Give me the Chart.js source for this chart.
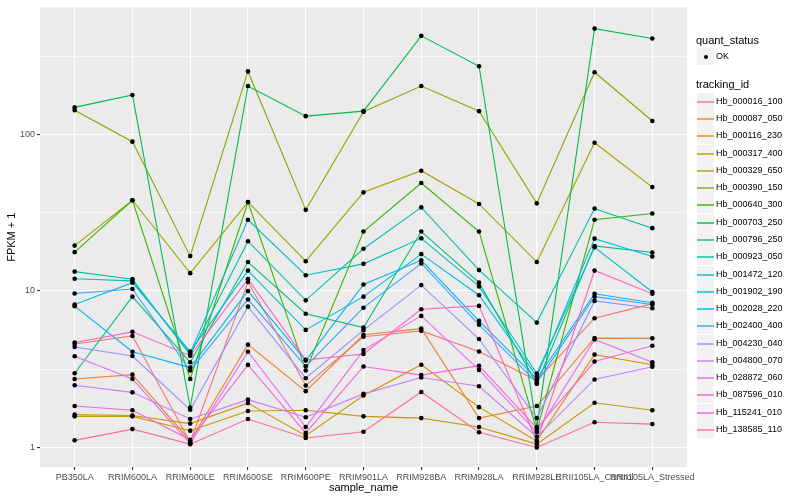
<!DOCTYPE html>
<html>
<head>
<meta charset="utf-8">
<script src="https://cdn.jsdelivr.net/npm/chart.js@4"></script>
<style>
  body { margin: 0; background: #fff; font-family: "Liberation Sans", Arial, sans-serif; }
  #wrap { position: relative; width: 800px; height: 500px; }
  #legend { position: absolute; left: 0; top: 0; }
  .ttl { position: absolute; font-size: 11px; color: #000; line-height: 13px; }
  .key { position: absolute; width: 17px; height: 17px; background: #f2f2f2; }
  .lab { position: absolute; font-size: 9px; color: #000; line-height: 11px; }
</style>
</head>
<body>
<div id="wrap">
  <canvas id="myChart" width="800" height="500"></canvas>
  <div id="legend"></div>
</div>
<script>
const categories = ["PB350LA", "RRIM600LA", "RRIM600LE", "RRIM600SE", "RRIM600PE", "RRIM901LA",
  "RRIM928BA", "RRIM928LA", "RRIM928LE", "RRII105LA_Control", "RRII105LA_Stressed"];

// FPKM + 1 per sample
const hb_000016_100 = [4.58, 5.16, 1.08, 11.4, 2.49, 5.1, 5.56, 4.1, 2.68, 6.7, 8.3];
const hb_000087_050 = [2.74, 2.92, 1.1, 4.54, 2.29, 5.25, 5.75, 1.54, 1.84, 5.0, 4.98];
const hb_000116_230 = [1.62, 1.6, 1.42, 1.92, 1.19, 2.15, 3.38, 1.81, 1.1, 3.92, 3.38];
const hb_000317_400 = [1.58, 1.58, 1.28, 1.71, 1.73, 1.58, 1.54, 1.35, 1.05, 1.93, 1.73];
const hb_000329_650 = [19.5, 38, 13.0, 37, 15.5, 42.7, 58.7, 36, 15.3, 88.6, 46.1];
const hb_000390_150 = [143, 90, 16.7, 253, 33, 140, 204, 141, 36.3, 250, 122];
const hb_000640_300 = [17.7, 38, 2.74, 37, 3.1, 24, 49, 24, 1.28, 28.5, 31.3];
const hb_000703_250 = [149, 179, 1.8, 204, 131, 141, 427, 273, 1.35, 475, 411];
const hb_000796_250 = [2.98, 9.2, 3.5, 15.3, 7.15, 5.83, 24.0, 11.3, 2.55, 19.4, 17.6];
const hb_000923_050 = [13.3, 11.9, 3.9, 20.8, 8.71, 18.6, 34.2, 13.6, 6.28, 33.6, 25.2];
const hb_001472_120 = [11.97, 11.6, 4.0, 28.5, 12.6, 14.9, 21.7, 10.7, 2.97, 19.0, 9.85];
const hb_001902_190 = [8.2, 11.3, 4.1, 13.5, 5.64, 9.2, 17.2, 9.39, 2.85, 21.6, 16.6];
const hb_002028_220 = [8.0, 4.09, 3.24, 10.0, 3.59, 11.0, 15.7, 6.44, 2.75, 9.6, 8.4];
const hb_002400_400 = [9.63, 10.3, 3.1, 8.83, 3.3, 7.82, 15.0, 6.08, 2.6, 9.2, 8.2];
const hb_004230_040 = [4.39, 3.84, 1.74, 7.94, 2.77, 5.62, 10.9, 4.93, 1.54, 8.64, 7.76];
const hb_004800_070 = [2.5, 2.25, 1.52, 2.02, 1.56, 2.2, 2.8, 2.46, 1.17, 2.72, 3.28];
const hb_028872_060 = [3.83, 2.74, 1.06, 4.09, 1.35, 4.19, 6.93, 3.13, 1.25, 4.9, 3.5];
const hb_087596_010 = [1.84, 1.73, 1.12, 3.37, 1.24, 3.29, 2.9, 3.33, 1.33, 3.54, 4.47];
const hb_115241_010 = [4.69, 5.48, 3.86, 11.9, 3.63, 3.96, 7.64, 8.03, 1.1, 13.5, 9.6];
const hb_138585_110 = [1.11, 1.31, 1.05, 1.52, 1.15, 1.26, 2.26, 1.25, 1.0, 1.45, 1.41];

const trackingIds = ["Hb_000016_100", "Hb_000087_050", "Hb_000116_230", "Hb_000317_400", "Hb_000329_650",
  "Hb_000390_150", "Hb_000640_300", "Hb_000703_250", "Hb_000796_250", "Hb_000923_050", "Hb_001472_120",
  "Hb_001902_190", "Hb_002028_220", "Hb_002400_400", "Hb_004230_040", "Hb_004800_070", "Hb_028872_060",
  "Hb_087596_010", "Hb_115241_010", "Hb_138585_110"];
const seriesValues = [hb_000016_100, hb_000087_050, hb_000116_230, hb_000317_400, hb_000329_650,
  hb_000390_150, hb_000640_300, hb_000703_250, hb_000796_250, hb_000923_050, hb_001472_120,
  hb_001902_190, hb_002028_220, hb_002400_400, hb_004230_040, hb_004800_070, hb_028872_060,
  hb_087596_010, hb_115241_010, hb_138585_110];

const yTicks = [1, 3.1623, 10, 31.623, 100, 316.23];
const yLabels = [1, 10, 100];

// ggplot hue palette, 20 levels
const colors = ["#F8766D", "#EA8331", "#D89000", "#C09B00", "#A3A500", "#7CAE00", "#39B600", "#00BB4E",
  "#00BF7D", "#00C1A3", "#00BFC4", "#00BAE0", "#00B0F6", "#35A2FF", "#9590FF", "#C77CFF", "#E76BF3",
  "#FA62DB", "#FF62BC", "#FF6C91"];

const isMajor = (v) => yLabels.some((m) => Math.abs(m - v) < 1e-6);

const datasets = seriesValues.map((vals, i) => ({
  label: trackingIds[i],
  data: vals.map((v, j) => ({ x: j, y: v })),
  borderColor: colors[i],
  borderWidth: 1.1,
  pointRadius: 0,
  fill: false,
  order: 100 - i
}));

// all points on top, like geom_point after geom_line
datasets.push({
  type: "scatter",
  label: "OK",
  data: seriesValues.flatMap((vals) => vals.map((v, j) => ({ x: j, y: v }))),
  pointRadius: 2.3,
  pointBackgroundColor: "#000",
  pointBorderWidth: 0,
  order: 0
});

const panelBg = {
  id: "panelBg",
  beforeDraw(chart) {
    const { ctx, chartArea: a } = chart;
    ctx.save();
    ctx.fillStyle = "#ebebeb";
    ctx.fillRect(a.left, a.top, a.right - a.left, a.bottom - a.top);
    ctx.restore();
  }
};

const tickFont = { family: "Liberation Sans", size: 9 };
const titleFont = { family: "Liberation Sans", size: 11 };

new Chart(document.getElementById("myChart"), {
  type: "line",
  data: { datasets },
  plugins: [panelBg],
  options: {
    responsive: false,
    animation: false,
    events: [],
    layout: { padding: { left: 0, top: 5, right: 113, bottom: 0 } },
    plugins: { legend: { display: false }, tooltip: { enabled: false } },
    scales: {
      x: {
        type: "linear",
        min: -0.6,
        max: 10.6,
        afterBuildTicks: (s) => { s.ticks = categories.map((c, i) => ({ value: i })); },
        afterFit: (s) => { s.height = 33; },
        ticks: {
          autoSkip: false, maxRotation: 0, minRotation: 0, padding: 2,
          color: "#4d4d4d", font: tickFont,
          callback: (v) => categories[v]
        },
        grid: { color: "#ffffff", lineWidth: 1.1, tickColor: "#333333", tickLength: 3 },
        border: { display: false },
        title: { display: true, text: "sample_name", color: "#000", font: titleFont, padding: { top: 0, bottom: 5 } }
      },
      y: {
        type: "logarithmic",
        min: 0.75,
        max: 649,
        afterBuildTicks: (s) => { s.ticks = yTicks.map((v) => ({ value: v })); },
        afterFit: (s) => { s.width = 40; },
        ticks: {
          padding: 2, color: "#4d4d4d", font: tickFont,
          callback: (v) => (isMajor(v) ? String(Math.round(v)) : "")
        },
        grid: {
          color: "#ffffff",
          lineWidth: (c) => (isMajor(c.tick.value) ? 1.1 : 0.55),
          tickColor: (c) => (isMajor(c.tick.value) ? "#333333" : "rgba(0,0,0,0)"),
          tickLength: 3
        },
        border: { display: false },
        title: { display: true, text: "FPKM + 1", color: "#000", font: titleFont, padding: { top: 5, bottom: 0 } }
      }
    }
  }
});

// legend in ggplot style
const legend = document.getElementById("legend");
let html = "";
html += `<div class="ttl" style="left:696px;top:34px">quant_status</div>`;
html += `<div class="key" style="left:697px;top:48px"><div style="position:absolute;left:6.5px;top:6.5px;width:4px;height:4px;border-radius:2px;background:#000"></div></div>`;
html += `<div class="lab" style="left:716px;top:51px">OK</div>`;
html += `<div class="ttl" style="left:696px;top:78px">tracking_id</div>`;
trackingIds.forEach((id, i) => {
  const top = Math.round(92.7 + i * 17.28);
  html += `<div class="key" style="left:697px;top:${top}px"><div style="position:absolute;left:0;top:8px;width:17px;height:2px;background:${colors[i]};opacity:0.7"></div></div>`;
  html += `<div class="lab" style="left:716px;top:${top + 3}px">${id}</div>`;
});
legend.innerHTML = html;
</script>
</body>
</html>
